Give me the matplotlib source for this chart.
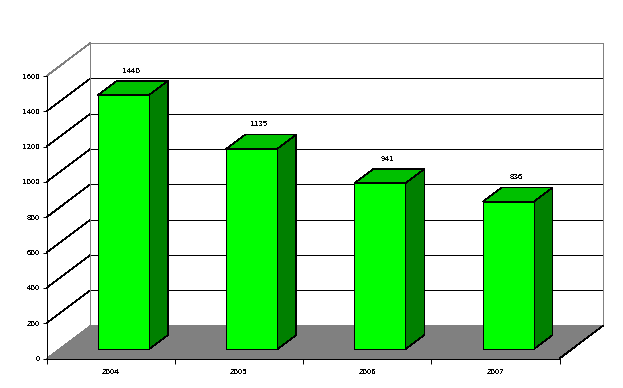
import matplotlib
matplotlib.use("Agg")
import matplotlib.pyplot as plt
from matplotlib.patches import Polygon

# Data
years = ["2004", "2005", "2006", "2007"]
values = [1440, 1135, 941, 836]
y_ticks = [0, 200, 400, 600, 800, 1000, 1200, 1400, 1600]

# Fake 3D depth, in data units
depth_x = 0.343
depth_y = 187
bar_width = 0.398
bar_front = 0.28
bar_back = 0.71
thin = 0.72  # one pixel at 100 dpi
hair = 0.45  # diagonals come out too heavy at 1 px without antialiasing

plt.rcParams['font.family'] = ['Liberation Sans', 'DejaVu Sans']
plt.rcParams['font.size'] = 5.8
plt.rcParams['text.antialiased'] = False

W, H = 623, 388
fig = plt.figure(figsize=(W / 100, H / 100), dpi=100, facecolor="white")
ax = fig.add_axes([46.5 / W, (H - 358.5) / H, 513 / W, 282.5 / H])
ax.set_xlim(0, 4)
ax.set_ylim(0, 1600)
ax.patch.set_visible(False)


def poly(points, face, edge="none", z=2):
    ax.add_patch(Polygon(points, closed=True, facecolor=face, edgecolor=edge, linewidth=hair,
                         clip_on=False, zorder=z, antialiased=False, joinstyle="miter"))


def line(xs, ys, color="black", z=1, lw=thin):
    ax.plot(xs, ys, color=color, lw=lw, clip_on=False, zorder=z, antialiased=False,
            solid_capstyle="butt")


# Walls and gridlines
for t in y_ticks[1:-1]:
    line([0, depth_x], [t, t + depth_y], lw=hair)
    line([depth_x, 4 + depth_x], [t + depth_y, t + depth_y])
top = y_ticks[-1]
line([0, depth_x], [top, top + depth_y], color="#808080", lw=hair)
line([depth_x, 4 + depth_x], [top + depth_y, top + depth_y], color="#808080")
line([depth_x, depth_x], [depth_y, top + depth_y], color="#808080")
line([4 + depth_x, 4 + depth_x], [depth_y, top + depth_y], color="#808080")

# Floor
poly([(0, 0), (4, 0), (4 + depth_x, depth_y), (depth_x, depth_y)], "#808080")
line([4, 4 + depth_x], [0, depth_y], z=3, lw=hair)

# Bars
for i, v in enumerate(values):
    x0 = i + 0.504 - bar_width / 2 + bar_front * depth_x
    x1 = x0 + bar_width
    y0 = bar_front * depth_y
    dx = (bar_back - bar_front) * depth_x
    dy = (bar_back - bar_front) * depth_y
    z = 4 + i
    poly([(x1, y0), (x1 + dx, y0 + dy), (x1 + dx, y0 + dy + v), (x1, y0 + v)], "#008000", "black", z)
    poly([(x0, y0 + v), (x1, y0 + v), (x1 + dx, y0 + v + dy), (x0 + dx, y0 + v + dy)], "#00C000", "black", z)
    poly([(x0, y0), (x1, y0), (x1, y0 + v), (x0, y0 + v)], "#00FF00", "black", z)
    ax.text(i + 0.5 + 0.16, v + y0 + dy + 55, str(v), ha="center", va="center", zorder=10)

# Axes
for s in ["top", "right"]:
    ax.spines[s].set_visible(False)
for s in ["left", "bottom"]:
    ax.spines[s].set_linewidth(thin)
    ax.spines[s].set_antialiased(False)
    ax.spines[s].set_zorder(3)
ax.set_yticks(y_ticks)
ax.set_xticks(range(5))
ax.set_xticklabels([])
ax.set_xticks([i + 0.5 for i in range(4)], labels=years, minor=True)
ax.tick_params(axis="y", length=3, width=thin, pad=1.8)
ax.tick_params(axis="x", which="major", length=3.8, width=thin)
ax.tick_params(axis="x", which="minor", length=0, pad=7.6)

fig.savefig("out.png", dpi=100, facecolor="white")
